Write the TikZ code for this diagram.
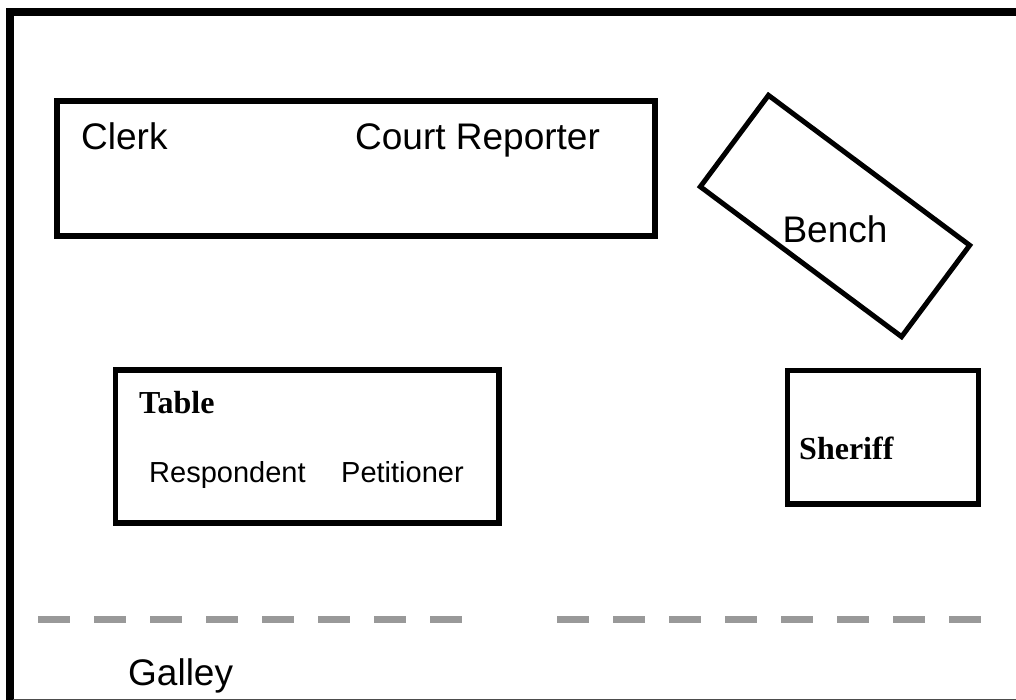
\documentclass[tikz,border=0pt]{standalone}
\usepackage{fontspec}
\setmainfont{Liberation Serif}
\newfontfamily\planfont{Liberation Sans}
\usetikzlibrary{positioning}

\begin{document}
\begin{tikzpicture}[
  x=1pt, y=-1pt,
  wall/.style={line width=8pt},
  furniture/.style={draw, line width=5.5pt, inner sep=0pt},
  rail/.style={line width=7pt, color=black!40, dash pattern=on 32pt off 24pt},
  roomtext/.style={font=\planfont\fontsize{37}{40}\selectfont, inner sep=0pt, anchor=base west},
  seattext/.style={font=\planfont\fontsize{29}{32}\selectfont, inner sep=0pt, anchor=base west},
  tagtext/.style={font=\bfseries\fontsize{32}{35}\selectfont, inner sep=0pt, anchor=base west}
]
  \clip (0,0) rectangle (1016,700);
  \fill[white] (0,0) rectangle (1016,700);
  % room walls
  \draw[wall] (9.5,720) -- (9.5,12) -- (1030,12);
  \draw[black!70, line width=1.2pt] (13,699.4) -- (1016,699.4);
  % clerk and reporter desk
  \node[furniture, minimum width=598pt, minimum height=135pt] (desk) at (356,168.5) {};
  \node[roomtext] (clerk) at (81,150) {Clerk};
  \node[roomtext] (reporter) at (355,150) {Court Reporter};
  % bench, turned
  \node[furniture, line width=5pt, minimum width=251pt, minimum height=114pt, rotate=-36.7] (bench) at (835,216) {};
  \node[roomtext, anchor=base] (benchlabel) at (835,243) {Bench};
  % counsel table
  \node[furniture, minimum width=383.5pt, minimum height=153pt] (table) at (307.25,446.5) {};
  \node[tagtext] (tablelabel) at (139,413) {Table};
  \node[seattext] (respondent) at (149,482) {Respondent};
  \node[seattext] (petitioner) at (341,482) {Petitioner};
  % sheriff
  \node[furniture, minimum width=191pt, minimum height=133.5pt] (sheriff) at (883,437.25) {};
  \node[tagtext] (sherifflabel) at (799,459) {Sheriff};
  % bar rail to the galley
  \draw[rail] (38,619.5) -- (462,619.5);
  \draw[rail] (557,619.5) -- (981,619.5);
  \node[roomtext] (galley) at (128,685) {Galley};
\end{tikzpicture}
\end{document}
